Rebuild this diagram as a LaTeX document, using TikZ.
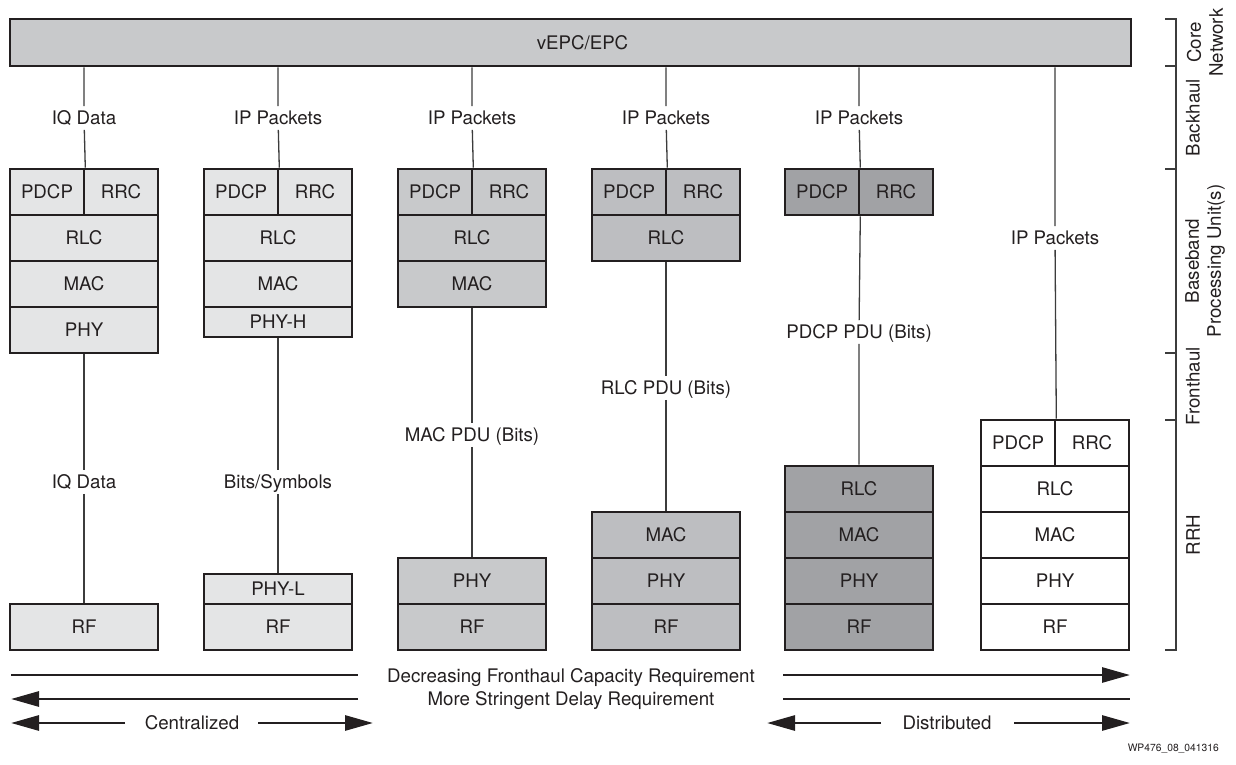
\documentclass[tikz,border=0pt]{standalone}
\usepackage{fontspec}
\setmainfont{TeX Gyre Heros}
\usetikzlibrary{arrows.meta}
\definecolor{bd}{HTML}{231F20}
\definecolor{ln}{HTML}{3C3C3C}
\definecolor{barc}{HTML}{C8C9CB}
\definecolor{ca}{HTML}{E4E5E6}
\definecolor{cb}{HTML}{C8C9CB}
\definecolor{cc}{HTML}{BDBEC1}
\definecolor{cd}{HTML}{A1A2A5}
\begin{document}
\begin{tikzpicture}[x=1pt,y=-1pt,
  every node/.style={font=\fontsize{18.7}{22}\selectfont, text=bd},
  cell/.style={draw=bd, line width=2.6pt, minimum width=148pt, minimum height=46pt, inner sep=0pt, text height=13.4pt, text depth=0pt},
  half/.style={cell, minimum width=74pt},
  thincell/.style={cell, minimum height=30pt},
  lab/.style={inner sep=5pt, text height=13.4pt, text depth=0pt},
  conn/.style={draw=ln, line width=1.3pt},
  brk/.style={draw=ln, line width=1.3pt},
  side/.style={rotate=90, align=center, inner sep=0pt},
  flow/.style={draw=bd, line width=2.8pt},
  flowarr/.style={flow, -{Triangle[length=28pt,width=15pt]}},
  flowtxt/.style={inner sep=0pt, text height=13.4pt, text depth=0pt}]
\useasboundingbox (0,0) rectangle (1236,764);

% core bar
\node[draw=bd, line width=2.6pt, fill=barc, minimum width=1121pt, minimum height=47pt, inner sep=0pt,
      label={[xshift=12pt, text height=13.4pt, text depth=0pt]center:vEPC/EPC}] (bar) at (570.5,42.5) {};

% column 1
\node[half, fill=ca] (a-pdcp) at (47,192) {PDCP};
\node[half, fill=ca] (a-rrc) at (121,192) {RRC};
\node[cell, fill=ca] (a-rlc) at (84,238) {RLC};
\node[cell, fill=ca] (a-mac) at (84,284) {MAC};
\node[cell, fill=ca] (a-phy) at (84,330) {PHY};
\node[cell, fill=ca] (a-rf) at (84,627) {RF};

% column 2
\node[half, fill=ca] (b-pdcp) at (241,192) {PDCP};
\node[half, fill=ca] (b-rrc) at (315,192) {RRC};
\node[cell, fill=ca] (b-rlc) at (278,238) {RLC};
\node[cell, fill=ca] (b-mac) at (278,284) {MAC};
\node[thincell, fill=ca] (b-phyh) at (278,322) {PHY-H};
\node[thincell, fill=ca] (b-phyl) at (278,589) {PHY-L};
\node[cell, fill=ca] (b-rf) at (278,627) {RF};

% column 3
\node[half, fill=cb] (c-pdcp) at (435,192) {PDCP};
\node[half, fill=cb] (c-rrc) at (509,192) {RRC};
\node[cell, fill=cb] (c-rlc) at (472,238) {RLC};
\node[cell, fill=cb] (c-mac) at (472,284) {MAC};
\node[cell, fill=cb] (c-phy) at (472,581) {PHY};
\node[cell, fill=cb] (c-rf) at (472,627) {RF};

% column 4
\node[half, fill=cc] (d-pdcp) at (629,192) {PDCP};
\node[half, fill=cc] (d-rrc) at (703,192) {RRC};
\node[cell, fill=cc] (d-rlc) at (666,238) {RLC};
\node[cell, fill=cc] (d-mac) at (666,535) {MAC};
\node[cell, fill=cc] (d-phy) at (666,581) {PHY};
\node[cell, fill=cc] (d-rf) at (666,627) {RF};

% column 5
\node[half, fill=cd] (e-pdcp) at (822,192) {PDCP};
\node[half, fill=cd] (e-rrc) at (896,192) {RRC};
\node[cell, fill=cd] (e-rlc) at (859,489) {RLC};
\node[cell, fill=cd] (e-mac) at (859,535) {MAC};
\node[cell, fill=cd] (e-phy) at (859,581) {PHY};
\node[cell, fill=cd] (e-rf) at (859,627) {RF};

% column 6
\node[half, fill=white] (f-pdcp) at (1018,443) {PDCP};
\node[half, fill=white] (f-rrc) at (1092,443) {RRC};
\node[cell, fill=white] (f-rlc) at (1055,489) {RLC};
\node[cell, fill=white] (f-mac) at (1055,535) {MAC};
\node[cell, fill=white] (f-phy) at (1055,581) {PHY};
\node[cell, fill=white] (f-rf) at (1055,627) {RF};

% labels
\node[lab] (qa1) at (84,118) {IQ Data};
\node[lab] (qb1) at (278,118) {IP Packets};
\node[lab] (qc1) at (472,118) {IP Packets};
\node[lab] (qd1) at (666,118) {IP Packets};
\node[lab] (qe1) at (859,118) {IP Packets};
\node[lab] (qf1) at (1055,238) {IP Packets};
\node[lab] (qa2) at (84,482) {IQ Data};
\node[lab] (qb2) at (278,482) {Bits/Symbols};
\node[lab] (qc2) at (472,435) {MAC PDU (Bits)};
\node[lab] (qd2) at (666,388) {RLC PDU (Bits)};
\node[lab] (qe2) at (859,332) {PDCP PDU (Bits)};

% connectors
\draw[conn] (bar.south -| qa1) -- (qa1) -- (a-pdcp.north east);
\draw[conn] (bar.south -| qb1) -- (qb1) -- (b-pdcp.north east);
\draw[conn] (bar.south -| qc1) -- (qc1) -- (c-pdcp.north east);
\draw[conn] (bar.south -| qd1) -- (qd1) -- (d-pdcp.north east);
\draw[conn] (bar.south -| qe1) -- (qe1) -- (e-pdcp.north east);
\draw[conn] (bar.south -| qf1) -- (qf1) -- (f-pdcp.north east);
\draw[conn] (a-phy.south) -- (qa2) -- (a-rf.north);
\draw[conn] (b-phyh.south) -- (qb2) -- (b-phyl.north);
\draw[conn] (c-mac.south) -- (qc2) -- (c-phy.north);
\draw[conn] (d-rlc.south) -- (qd2) -- (d-mac.north);
\draw[conn] (e-pdcp.south east) -- (qe2) -- (e-rlc.north);

% right bracket
\draw[brk] (1165,19) -- (1176,19) -- (1176,650) -- (1165,650);
\foreach \yy in {66,169,353,420} \draw[brk] (1165,\yy) -- (1176,\yy);
\node[side] (s-core) at (1205,42.5) {Core\\Network};
\node[side] (s-back) at (1193,117.5) {Backhaul};
\node[side] (s-base) at (1205,261) {Baseband\\Processing Unit(s)};
\node[side] (s-front) at (1193,386.5) {Fronthaul};
\node[side] (s-rrh) at (1193,535) {RRH};

% bottom flows
\node[flowtxt] (t-dec) at (571,676) {Decreasing Fronthaul Capacity Requirement};
\node[flowtxt] (t-del) at (571,699) {More Stringent Delay Requirement};
\node[flowtxt] (t-cen) at (192,723) {Centralized};
\node[flowtxt] (t-dis) at (947,723) {Distributed};

\coordinate (l1a) at (11,675);   \coordinate (l1b) at (358,675);
\coordinate (r1a) at (783,675);  \coordinate (r1b) at (1130,675);
\coordinate (l2a) at (358,699);  \coordinate (l2b) at (11,699);
\coordinate (r2a) at (783,699);  \coordinate (r2b) at (1130,699);
\coordinate (c1a) at (125,723);  \coordinate (c1b) at (11,723);
\coordinate (c2a) at (258,723);  \coordinate (c2b) at (373,723);
\coordinate (d1a) at (881,723);  \coordinate (d1b) at (767,723);
\coordinate (d2a) at (1014,723); \coordinate (d2b) at (1130,723);

\draw[flow] (l1a) -- (l1b);
\draw[flowarr] (r1a) -- (r1b);
\draw[flowarr] (l2a) -- (l2b);
\draw[flow] (r2a) -- (r2b);
\draw[flowarr] (c1a) -- (c1b);
\draw[flowarr] (c2a) -- (c2b);
\draw[flowarr] (d1a) -- (d1b);
\draw[flowarr] (d2a) -- (d2b);

\node[anchor=east, inner sep=0pt, font=\fontsize{10.3}{12}\selectfont] (wp) at (1219,749) {WP476\_08\_041316};
\end{tikzpicture}
\end{document}
